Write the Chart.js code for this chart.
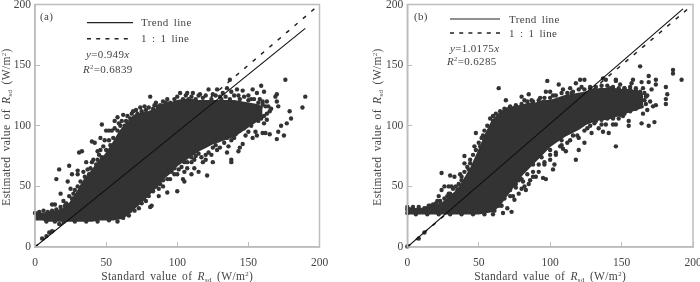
<!DOCTYPE html>
<html>
<head>
<meta charset="utf-8">
<script src="https://cdn.jsdelivr.net/npm/chart.js@4"></script>
<style>
html, body { margin: 0; padding: 0; background: #fff; }
#wrap { position: relative; width: 700px; height: 282px; overflow: hidden; }
.panel { position: absolute; top: 0; height: 282px; }
</style>
</head>
<body>
<div id="wrap">
  <div class="panel" style="left:0;width:340px"><canvas id="chartA"></canvas></div>
  <div class="panel" style="left:340px;width:360px"><canvas id="chartB"></canvas></div>
</div>
<script>
// axis ticks
const tickValues = [0, 50, 100, 150, 200];

// panel (a): dense core of the cloud, read as upper and lower edges
const coreXA = [0, 5, 10, 15, 20, 25, 30, 35, 40, 45, 50, 55, 60, 65, 70, 75, 80, 85, 90, 95, 100, 105, 110, 115, 120, 125, 130, 135, 140, 145, 150, 155, 160];
const coreHighA = [28, 27, 28, 29, 31, 36, 45, 55, 62, 70, 76, 85, 95, 102, 108, 110, 111, 113, 117, 118, 120, 121, 121, 120, 120, 120, 120, 120, 120, 119, 118, 117, 115];
const coreLowA = [23, 23, 22, 22, 22, 22, 22, 22, 22, 23, 23, 23, 24, 27, 33, 38, 44, 50, 57, 62, 68, 72, 76, 80, 83, 86, 88, 90, 92, 96, 100, 104, 108];

// panel (a): single dots around the core
const dotsA = [
  [5, 7], [8, 9], [10, 12], [12, 13], [17, 19], [12, 35], [14, 35], [15, 56], [17, 64], [18, 44],
  [24, 67], [26, 60], [31, 78], [33, 79], [30, 63], [30, 60], [23, 54], [25, 48], [27, 44], [20, 38],
  [24, 42], [34, 62], [36, 70], [38, 60], [40, 70], [39, 65], [40, 87], [42, 86], [44, 79], [46, 80],
  [46, 90], [47, 101], [44, 72], [50, 96], [52, 96], [54, 96], [56, 104], [58, 107], [62, 109], [64, 104],
  [60, 100], [68, 110], [71, 113], [74, 115], [78, 113], [81, 124], [84, 117], [86, 116], [92, 119], [98, 122],
  [102, 127], [106, 125], [108, 122], [111, 127], [115, 125], [118, 123], [122, 130], [125, 126], [128, 130], [132, 127],
  [135, 131], [137, 138], [138, 128], [130, 124], [142, 130], [143, 125], [146, 129], [150, 125], [153, 130], [156, 127],
  [159, 133], [161, 128], [163, 120], [158, 122], [152, 122], [165, 112], [162, 116], [160, 118], [158, 110], [155, 113],
  [161, 102], [163, 105], [160, 94], [162, 94], [165, 93], [156, 92], [153, 90], [155, 95], [150, 95], [148, 92],
  [147, 98], [152, 100], [149, 105], [145, 100], [142, 97], [140, 90], [146, 85], [144, 82], [143, 79], [138, 88],
  [136, 83], [133, 86], [130, 82], [128, 80], [135, 78], [138, 72], [138, 70], [125, 70], [120, 72], [118, 70],
  [121, 59], [115, 62], [112, 65], [110, 60], [113, 75], [107, 65], [105, 62], [104, 56], [105, 54], [100, 46],
  [100, 60], [98, 65], [95, 56], [93, 62], [90, 55], [93, 45], [87, 48], [87, 42], [82, 34], [81, 33],
  [76, 50], [76, 40], [72, 40], [70, 36], [67, 30], [110, 70], [105, 70], [90, 50], [176, 138], [190, 124],
  [188, 115], [180, 106], [179, 112], [175, 92], [170, 89], [171, 95], [173, 100], [177, 102], [171, 116], [170, 120],
  [170, 126], [169, 124],
  [22, 36], [26, 40], [28, 47], [30, 50], [32, 54], [33, 50], [35, 58], [37, 64], [39, 58], [41, 72],
  [43, 68], [45, 76], [47, 74], [48, 83], [49, 88], [50, 80], [52, 88], [53, 84], [55, 90], [56, 98],
  [58, 96], [59, 102], [61, 104], [63, 100], [65, 108], [67, 106], [69, 112], [72, 110], [75, 112], [77, 116],
  [80, 115], [83, 114], [85, 119], [88, 117], [90, 120], [93, 122], [95, 119], [100, 124], [104, 122], [107, 127],
  [110, 124], [113, 122], [116, 126], [120, 125], [124, 122], [127, 125], [131, 122], [134, 124], [137, 122], [140, 125],
  [144, 122], [147, 124], [150, 121], [154, 122], [157, 119], [160, 120], [164, 116], [166, 114], [163, 110], [161, 108],
  [159, 106], [157, 104], [155, 107], [152, 104], [150, 102], [147, 102], [144, 96], [141, 93], [139, 96], [137, 92],
  [135, 90], [132, 92], [129, 88], [127, 84], [125, 82], [122, 78], [124, 76], [120, 76], [117, 74], [115, 77],
  [112, 72], [110, 74], [107, 70], [103, 66], [101, 64], [98, 60], [96, 62], [93, 56], [90, 58], [88, 52],
  [85, 50], [83, 46], [80, 42], [78, 38], [75, 36], [73, 32], [70, 30], [66, 26], [62, 24], [58, 21],
  [52, 22], [44, 21], [36, 21], [28, 21], [20, 21], [14, 21], [8, 21], [0, 28], [3, 29], [6, 30],
  [9, 29], [12, 30], [15, 31], [18, 33], [21, 34]
];

// panel (b): dense core of the cloud
const coreXB = [0, 5, 10, 15, 20, 25, 30, 35, 40, 45, 50, 55, 60, 65, 70, 75, 80, 85, 90, 95, 100, 105, 110, 115, 120, 125, 130, 135, 140, 145, 150, 155, 160, 165];
const coreHighB = [32, 31, 31, 33, 34, 36, 41, 46, 55, 65, 78, 92, 104, 110, 114, 115, 116, 118, 118, 120, 120, 122, 124, 125, 126, 127, 129, 130, 130, 130, 129, 129, 128, 125];
const coreLowB = [28, 28, 28, 28, 28, 28, 28, 28, 28, 28, 28, 29, 30, 36, 44, 52, 60, 66, 72, 78, 84, 88, 92, 95, 98, 102, 104, 106, 106, 108, 110, 112, 114, 116];

// panel (b): single dots around the core
const dotsB = [
  [0, 0.5], [8, 7], [12, 12], [0, 33], [15, 34], [21, 38], [22, 42], [24, 47], [24, 61], [26, 50],
  [29, 50], [31, 50], [30, 59], [33, 58], [37, 60], [38, 55], [29, 44], [30, 42], [35, 47], [36, 42],
  [40, 75], [40, 69], [44, 69], [43, 64], [47, 83], [48, 94], [51, 83], [53, 92], [60, 108], [64, 131],
  [69, 121], [80, 124], [85, 126], [82, 121], [87, 121], [93, 123], [98, 137], [97, 128], [100, 128], [106, 134],
  [102, 125], [109, 130], [114, 131], [115, 127], [118, 135], [121, 138], [124, 138], [122, 132], [128, 131], [137, 139],
  [139, 138], [142, 131], [149, 134], [146, 138], [152, 131], [156, 130], [160, 131], [158, 138], [164, 136], [157, 135],
  [146, 137], [163, 149], [169, 141], [169, 136], [174, 138], [174, 134], [171, 130], [165, 131], [167, 124], [166, 121],
  [174, 117], [172, 116], [168, 113], [165, 110], [173, 103], [169, 100], [164, 102], [155, 104], [155, 100], [146, 83],
  [181, 132], [182, 126], [181, 122], [181, 118], [186, 146], [186, 143], [192, 138], [151, 108], [149, 109], [146, 101],
  [144, 101], [139, 101], [136, 101], [141, 94], [137, 95], [134, 98], [129, 94], [124, 86], [120, 80], [118, 72],
  [111, 79], [109, 81], [107, 83], [103, 68], [102, 64], [97, 56], [95, 57], [90, 58], [86, 55], [81, 54],
  [78, 55], [83, 47], [80, 48], [76, 49], [72, 47], [70, 47], [74, 42], [75, 39], [70, 32], [73, 29],
  [67, 28], [61, 30], [66, 34], [64, 38], [68, 40], [72, 42], [78, 44], [82, 50], [85, 52], [88, 58],
  [92, 62], [96, 68], [100, 72], [104, 76], [108, 84], [114, 88], [119, 92], [65, 46], [70, 55], [76, 60],
  [82, 64], [88, 68], [94, 74], [100, 80], [126, 98], [131, 102],
  [18, 35], [20, 36], [23, 38], [26, 40], [28, 42], [30, 44], [32, 48], [34, 50], [36, 52], [38, 58],
  [40, 62], [42, 66], [44, 72], [46, 76], [48, 80], [50, 86], [52, 90], [54, 96], [56, 100], [58, 106],
  [60, 104], [62, 110], [65, 112], [68, 114], [72, 116], [76, 117], [80, 118], [84, 120], [88, 120], [92, 121],
  [96, 123], [100, 123], [104, 125], [108, 127], [112, 127], [116, 128], [120, 130], [124, 130], [128, 132], [132, 132],
  [136, 133], [140, 133], [144, 132], [148, 131], [152, 131], [156, 132], [160, 129], [163, 128], [166, 127], [168, 125],
  [170, 120], [167, 118], [164, 116], [160, 114], [156, 112], [152, 110], [148, 106], [144, 106], [140, 106], [136, 105],
  [132, 104], [128, 100], [124, 96], [120, 90], [116, 92], [112, 86], [108, 88], [104, 78], [100, 76], [96, 70],
  [92, 68], [88, 62], [84, 60], [80, 56], [76, 52], [72, 50], [68, 44], [64, 34], [60, 27], [54, 27],
  [46, 27], [38, 27], [30, 27], [22, 27], [14, 27], [6, 27], [0, 28], [0, 31], [4, 33], [8, 33],
  [12, 32], [16, 34]
];

// regression slopes and where the drawn lines stop
const slopeA = 0.949;
const trendEndA = 190;
const refEndA = 197;
const slopeB = 1.0175;
const trendEndB = 193;
const refEndB = 198;

const inkDots = "#333333";
const inkText = "#444444";
const inkAxis = "#bdbdbd";
const serif = "'Liberation Serif', serif";

function xy(xs, ys) {
    return xs.map((x, i) => ({ x: x, y: ys[i] }));
}

// text with italic / sub / superscript runs
function runWidth(ctx, runs, size) {
    let w = 0;
    runs.forEach(r => {
        ctx.font = (r.i ? "italic " : "") + (r.sub || r.sup ? size * 0.6 : size) + "px " + serif;
        w += ctx.measureText(r.t).width;
    });
    return w;
}

function drawRuns(ctx, runs, x, y, size) {
    ctx.textAlign = "left";
    ctx.textBaseline = "alphabetic";
    ctx.fillStyle = inkText;
    runs.forEach(r => {
        ctx.font = (r.i ? "italic " : "") + (r.sub || r.sup ? size * 0.6 : size) + "px " + serif;
        const dy = r.sub ? 2 : (r.sup ? -4 : 0);
        ctx.fillText(r.t, x, y + dy);
        x += ctx.measureText(r.t).width;
    });
}

const xTitleRuns = [{ t: "Standard value of " }, { t: "R", i: true }, { t: "sd", sub: true }, { t: " (W/m" }, { t: "2", sup: true }, { t: ")" }];
const yTitleRuns = [{ t: "Estimated value of " }, { t: "R", i: true }, { t: "sd", sub: true }, { t: " (W/m" }, { t: "2", sup: true }, { t: ")" }];

function annotations(cfg) {
    return {
        id: "annotations",
        afterDraw(chart) {
            const ctx = chart.ctx;
            const area = chart.chartArea;
            ctx.save();

            // frame round the plot
            ctx.strokeStyle = inkAxis;
            ctx.lineWidth = 1.5;
            ctx.strokeRect(area.left, area.top, area.right - area.left, area.bottom - area.top);

            // axis titles
            ctx.letterSpacing = "0.35px";
            ctx.wordSpacing = "2px";
            const xw = runWidth(ctx, xTitleRuns, 11.5);
            drawRuns(ctx, xTitleRuns, (area.left + area.right) / 2 - xw / 2, 280, 11.5);
            const yw = runWidth(ctx, yTitleRuns, 11.5);
            ctx.save();
            ctx.translate(cfg.yTitleX, 127);
            ctx.rotate(-Math.PI / 2);
            drawRuns(ctx, yTitleRuns, -yw / 2, 0, 11.5);
            ctx.restore();

            // panel letter
            drawRuns(ctx, [{ t: cfg.letter }], cfg.letterX, 20, 11);

            // legend
            ctx.strokeStyle = "#222";
            ctx.lineWidth = 1.2;
            ctx.beginPath();
            ctx.moveTo(cfg.legX0, cfg.legY1);
            ctx.lineTo(cfg.legX1, cfg.legY1);
            ctx.stroke();
            ctx.setLineDash([4, 5.2]);
            ctx.lineWidth = 1.5;
            ctx.beginPath();
            ctx.moveTo(cfg.legX0, cfg.legY2);
            ctx.lineTo(cfg.legX1, cfg.legY2);
            ctx.stroke();
            ctx.setLineDash([]);
            drawRuns(ctx, [{ t: "Trend line" }], cfg.legTextX, cfg.legY1 + 3.5, 11);
            drawRuns(ctx, [{ t: "1 : 1 line" }], cfg.legTextX, cfg.legY2 + 3.5, 11);

            // regression text
            drawRuns(ctx, [{ t: "y", i: true }, { t: cfg.eq }, { t: "x", i: true }], cfg.eqX, cfg.eqY, 11);
            drawRuns(ctx, [{ t: "R", i: true }, { t: "2", sup: true }, { t: cfg.r2 }], cfg.r2X, cfg.r2Y, 11);
            ctx.restore();
        }
    };
}

function axis(isX, plotLeft) {
    return {
        type: "linear",
        min: tickValues[0],
        max: tickValues[tickValues.length - 1],
        afterBuildTicks(scale) {
            scale.ticks = tickValues.map(v => ({ value: v }));
        },
        afterFit(scale) {
            if (isX) {
                scale.height = 35;
                scale.paddingLeft = 0;
                scale.paddingRight = 0;
            } else {
                scale.width = plotLeft;
                scale.paddingTop = 0;
                scale.paddingBottom = 0;
            }
        },
        grid: { drawOnChartArea: false, tickLength: -5, tickColor: inkAxis, tickWidth: 1 },
        border: { color: inkAxis, width: 1.5 },
        ticks: {
            autoSkip: false,
            maxRotation: 0,
            padding: isX ? 14 : 9,
            color: inkText,
            font: { family: serif, size: 11.5 }
        }
    };
}

function makeChart(id, cfg) {
    return new Chart(document.getElementById(id), {
        type: "scatter",
        data: {
            datasets: [
                {
                    label: "Trend line",
                    data: [{ x: 0, y: 0 }, { x: cfg.trendEnd, y: cfg.trendEnd * cfg.slope }],
                    showLine: true, pointRadius: 0, borderColor: "#111", borderWidth: 1.1
                },
                {
                    label: "dots",
                    data: cfg.dots.map(p => ({ x: p[0], y: p[1] })),
                    pointRadius: 2.2, pointBorderWidth: 0, pointBackgroundColor: inkDots, clip: false
                },
                {
                    label: "core high",
                    data: xy(cfg.coreX, cfg.coreHigh),
                    showLine: true, pointRadius: 0, borderColor: inkDots, borderWidth: 3,
                    backgroundColor: inkDots, fill: "+1"
                },
                {
                    label: "core low",
                    data: xy(cfg.coreX, cfg.coreLow),
                    showLine: true, pointRadius: 0, borderColor: inkDots, borderWidth: 3
                },
                {
                    // last in the list, so the cloud covers it
                    label: "1 : 1 line",
                    data: [{ x: 0, y: 0 }, { x: cfg.refEnd, y: cfg.refEnd }],
                    showLine: true, pointRadius: 0, borderColor: "#222", borderWidth: 1.5, borderDash: [4, 7]
                }
            ]
        },
        options: {
            responsive: false,
            animation: false,
            layout: { padding: { top: cfg.top, right: cfg.right, bottom: 0, left: 0 } },
            plugins: { legend: { display: false }, tooltip: { enabled: false } },
            scales: { x: axis(true, cfg.plotLeft), y: axis(false, cfg.plotLeft) }
        },
        plugins: [annotations(cfg)]
    });
}

function sizeCanvas(id, w, h) {
    const c = document.getElementById(id);
    c.width = w;
    c.height = h;
    c.style.width = w + "px";
    c.style.height = h + "px";
}

sizeCanvas("chartA", 340, 282);
sizeCanvas("chartB", 360, 282);

makeChart("chartA", {
    coreX: coreXA, coreHigh: coreHighA, coreLow: coreLowA, dots: dotsA,
    slope: slopeA, trendEnd: trendEndA, refEnd: refEndA,
    plotLeft: 35, top: 4.5, right: 20.5,
    yTitleX: 10, letter: "(a)", letterX: 40,
    legX0: 87, legX1: 133, legY1: 22.7, legY2: 38.7, legTextX: 141,
    eq: "=0.949", eqX: 86, eqY: 58, r2: "=0.6839", r2X: 83, r2Y: 73
});

makeChart("chartB", {
    coreX: coreXB, coreHigh: coreHighB, coreLow: coreLowB, dots: dotsB,
    slope: slopeB, trendEnd: trendEndB, refEnd: refEndB,
    plotLeft: 67.3, top: 4.5, right: 7,
    yTitleX: 41, letter: "(b)", letterX: 74,
    legX0: 110, legX1: 160, legY1: 19, legY2: 33, legTextX: 169,
    eq: "=1.0175", eqX: 110, eqY: 51.5, r2: "=0.6285", r2X: 107, r2Y: 65
});
</script>
</body>
</html>
